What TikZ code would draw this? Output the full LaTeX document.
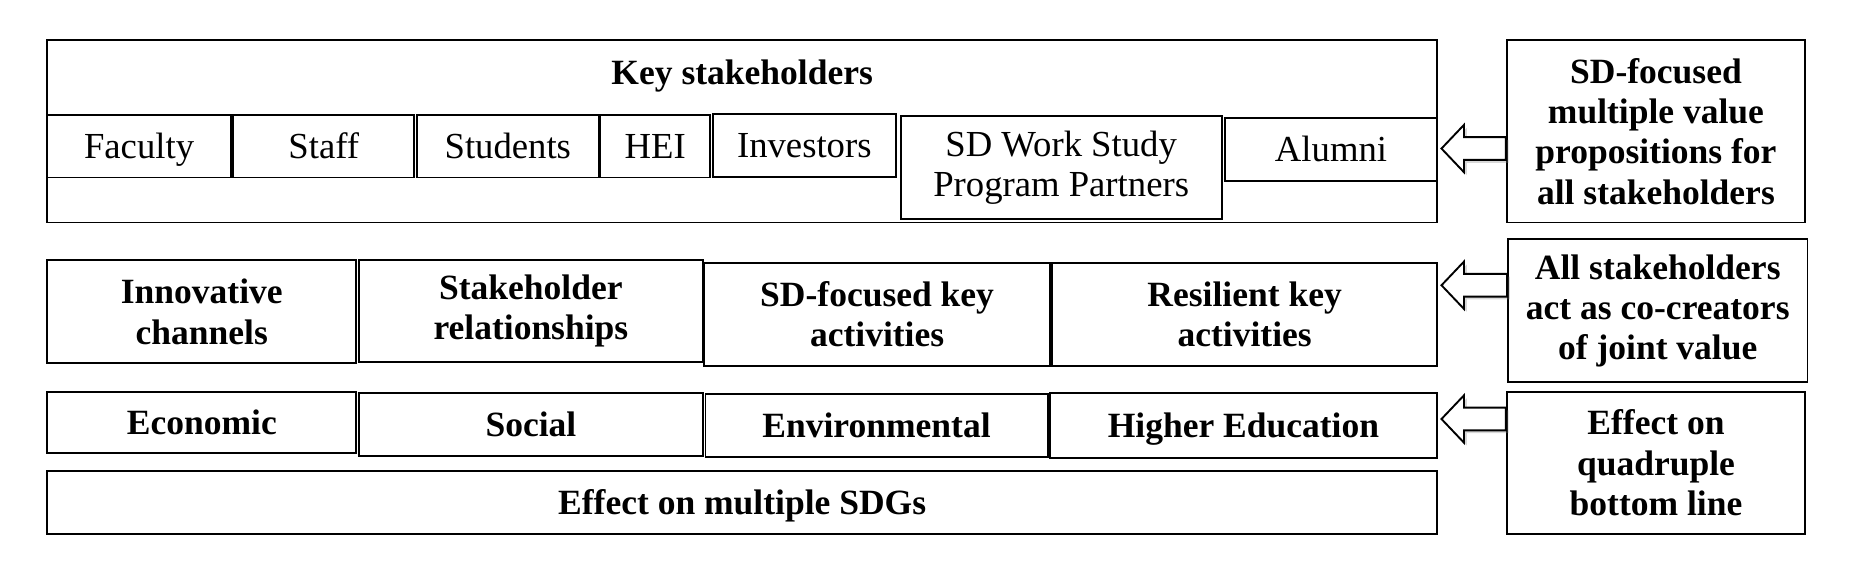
\documentclass[tikz,border=0pt]{standalone}
\usepackage{fontspec}
\setmainfont{Liberation Serif}
\usetikzlibrary{calc,shadows}
\tikzset{
  base/.style={draw, line width=0.8pt, inner sep=0pt, align=center, fill=white},
  box/.style={base, font=\fontsize{15.5}{17}\selectfont},
  bbox/.style={base, font=\fontsize{15}{17}\selectfont\bfseries},
  one/.style={execute at begin node={\rule{0pt}{13.5pt}},
    execute at end node={\rule[-3.5pt]{0pt}{0pt}}},
  txt/.style={inner sep=0pt, align=center, font=\fontsize{15}{17}\selectfont\bfseries, one},
  barrow/.style={draw, line width=0.8pt, fill=white, line join=miter,
    drop shadow={shadow xshift=1.2pt, shadow yshift=-1.2pt, opacity=0.3, fill=gray}}
}
\newcommand\blockarrow[2]{%
  \path[barrow] let \p1=(#1), \p2=(#2) in
    (\x2,\y2) -- (\x2+9.5pt,\y2+10pt) -- (\x2+9.5pt,\y2+4.8pt) -- (\x1,\y2+4.8pt)
    -- (\x1,\y2-4.8pt) -- (\x2+9.5pt,\y2-4.8pt) -- (\x2+9.5pt,\y2-10pt) -- cycle;}
\begin{document}
\begin{tikzpicture}[x=0.5pt,y=-0.5pt]
\useasboundingbox[fill=white] (0,0) rectangle (1568,480);
% top block
\node[box, minimum width=587pt, minimum height=77pt] (key) at (627,111) {};
\node[txt] (keyt) at (627,61) {Key stakeholders};
\node[box, one, minimum width=77.5pt, minimum height=26.5pt] (fac) at (117.5,123.5) {Faculty};
\node[box, one, minimum width=76.5pt, minimum height=26.5pt] (sta) at (273.5,123.5) {Staff};
\node[box, one, minimum width=77pt, minimum height=26.5pt] (stu) at (429,123.5) {Students};
\node[box, one, minimum width=46.5pt, minimum height=26.5pt] (hei) at (553.5,123.5) {HEI};
\node[box, one, minimum width=77.5pt, minimum height=26.5pt] (inv) at (679.5,123) {Investors};
\node[box, minimum width=135.5pt, minimum height=43.5pt] (sdw) at (896.5,141.5) {SD Work Study\\Program Partners};
\node[box, one, minimum width=89.5pt, minimum height=26.5pt] (alu) at (1124.5,126.5) {Alumni};
\node[bbox, minimum width=126pt, minimum height=77pt] (vp) at (1399,111) {SD-focused\\multiple value\\propositions for\\all stakeholders};
% second row
\node[bbox, minimum width=130.5pt, minimum height=43.5pt] (inn) at (170.5,263.5) {Innovative\\channels};
\node[bbox, minimum width=145.5pt, minimum height=43pt] (rel) at (448.5,263) {Stakeholder\\relationships};
\node[bbox, minimum width=146pt, minimum height=43.5pt] (act) at (741,265.5) {SD-focused key\\activities};
\node[bbox, minimum width=162.5pt, minimum height=43.5pt] (res) at (1051.5,265.5) {Resilient key\\activities};
\node[bbox, minimum width=126.5pt, minimum height=60.5pt,
  execute at begin node={\rule{0pt}{13pt}}] (co) at (1400.5,262.5) {All stakeholders\\act as co-creators\\of joint value};
% third row
\node[bbox, one, minimum width=130.5pt, minimum height=26pt] (eco) at (170.5,357) {Economic};
\node[bbox, one, minimum width=145.5pt, minimum height=26.5pt] (soc) at (448.5,358.5) {Social};
\node[bbox, one, minimum width=144.5pt, minimum height=26.5pt] (env) at (740.5,359.5) {Environmental};
\node[bbox, one, minimum width=163.5pt, minimum height=27.5pt] (he) at (1050.5,359.5) {Higher Education};
\node[bbox, one, minimum width=587pt, minimum height=26.5pt] (sdg) at (627,424.5) {Effect on multiple SDGs};
\node[bbox, minimum width=126pt, minimum height=60pt] (qbl) at (1399,391) {Effect on\\quadruple\\bottom line};
% arrows
\coordinate (t1) at ($(key.east)+(3,0)$);
\coordinate (t1) at (t1 |- 0,125.5);
\coordinate (t2) at ($(res.east)+(3,0)$);
\coordinate (t2) at (t2 |- 0,241);
\coordinate (t3) at ($(he.east)+(3,0)$);
\coordinate (t3) at (t3 |- 0,354);
\blockarrow{vp.west |- t1}{t1}
\blockarrow{co.west |- t2}{t2}
\blockarrow{qbl.west |- t3}{t3}
\end{tikzpicture}
\end{document}
